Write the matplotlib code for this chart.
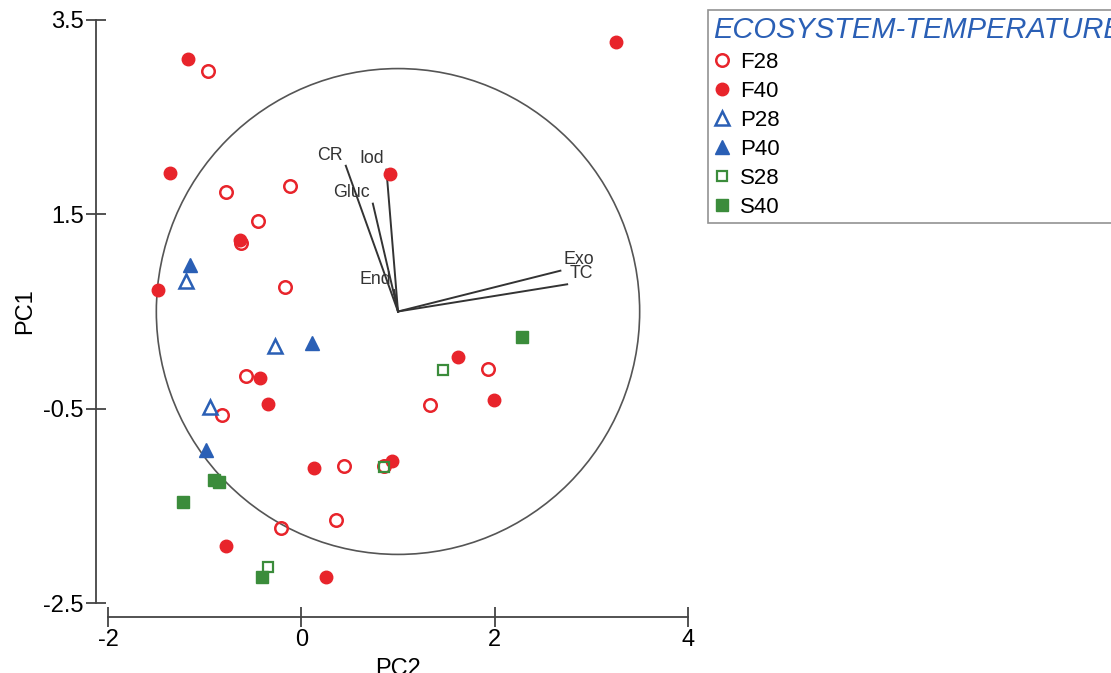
import matplotlib
matplotlib.use('Agg')
import matplotlib.pyplot as plt
from matplotlib.patches import Circle

plt.rcParams['font.family'] = ['Liberation Sans', 'DejaVu Sans']
plt.rcParams['axes.unicode_minus'] = False

# sample scores (PC2 on x, PC1 on y)
f28_x = [-0.97, -0.78, -0.12, -0.45, -0.62, -0.17, -0.57, -0.82, 1.33, 1.93, 0.44, 0.85, 0.36, -0.21]
f28_y = [2.98, 1.73, 1.79, 1.43, 1.21, 0.75, -0.16, -0.57, -0.46, -0.09, -1.09, -1.09, -1.65, -1.73]
f40_x = [-1.17, 3.26, -1.36, 0.92, -0.63, -1.48, -0.43, -0.34, 1.62, 1.99, 0.13, 0.94, -0.78, 0.26]
f40_y = [3.10, 3.27, 1.93, 1.92, 1.24, 0.72, -0.18, -0.45, 0.03, -0.41, -1.11, -1.04, -1.91, -2.23]
p28_x = [-1.19, -0.27, -0.95]
p28_y = [0.81, 0.14, -0.48]
p40_x = [-1.15, 0.11, -0.99]
p40_y = [0.98, 0.18, -0.93]
s28_x = [1.47, 0.85, -0.35]
s28_y = [-0.10, -1.10, -2.13]
s40_x = [2.28, -1.22, -0.90, -0.85, -0.41]
s40_y = [0.24, -1.46, -1.23, -1.25, -2.23]

# loading vectors
var_names = ['CR', 'Iod', 'Gluc', 'End', 'Exo', 'TC']
var_x = [0.46, 0.88, 0.74, 0.96, 2.68, 2.75]
var_y = [2.00, 1.96, 1.61, 0.72, 0.92, 0.78]
origin = (1.0, 0.5)
radius = 2.5

red = '#e8242b'
blue = '#2a5fb5'
green = '#3b8c3b'

fig = plt.figure(figsize=(11.11, 6.73), dpi=100)
ax = fig.add_axes([108/1111, 70/673, 580/1111, 583/673])
ax.set_xlim(-2, 4)
ax.set_ylim(-2.5, 3.5)

ax.add_patch(Circle(origin, radius, fill=False, edgecolor='#555555', lw=1.2))

for name, vx, vy in zip(var_names, var_x, var_y):
    ax.plot([origin[0], vx], [origin[1], vy], color='#333333', lw=1.4)
    if vx < 2:
        ax.annotate(name, (vx, vy), xytext=(-2, 4.5), textcoords='offset points',
                    ha='right', va='baseline', fontsize=12.8, color='#333333')
    else:
        ax.annotate(name, (vx, vy), xytext=(2, 4.5), textcoords='offset points',
                    ha='left', va='baseline', fontsize=12.8, color='#333333')

ax.plot(f28_x, f28_y, 'o', ms=9, mfc='none', mec=red, mew=1.8, ls='none', label='F28', clip_on=False)
ax.plot(f40_x, f40_y, 'o', ms=9, mfc=red, mec=red, ls='none', label='F40', clip_on=False)
ax.plot(p28_x, p28_y, '^', ms=9.5, mfc='none', mec=blue, mew=1.8, ls='none', label='P28', clip_on=False)
ax.plot(p40_x, p40_y, '^', ms=9.5, mfc=blue, mec=blue, ls='none', label='P40', clip_on=False)
ax.plot(s28_x, s28_y, 's', ms=7.5, mfc='none', mec=green, mew=1.6, ls='none', label='S28', clip_on=False)
ax.plot(s40_x, s40_y, 's', ms=8, mfc=green, mec=green, ls='none', label='S40', clip_on=False)

# detached axis lines
for side in ['top', 'right']:
    ax.spines[side].set_visible(False)
ax.spines['left'].set_position(('outward', 8.6))
ax.spines['bottom'].set_position(('outward', 10))
ax.spines['left'].set_bounds(-2.5, 3.5)
ax.spines['bottom'].set_bounds(-2, 4)
for side in ['left', 'bottom']:
    ax.spines[side].set_color('#444444')
    ax.spines[side].set_linewidth(1.3)

ax.set_xticks([-2, 0, 2, 4])
ax.set_yticks([-2.5, -0.5, 1.5, 3.5])
ax.set_yticklabels(['-2.5', '-0.5', '1.5', '3.5'])
ax.tick_params(direction='inout', length=14, width=1.3, color='#444444',
               labelsize=17, pad=2)
ax.set_xlabel('PC2', fontsize=17, labelpad=5)
ax.set_ylabel('PC1', fontsize=17, labelpad=5)

leg = fig.legend(loc='upper left', bbox_to_anchor=(708/1111, 1 - 10/673),
                 bbox_transform=fig.transFigure, borderaxespad=0,
                 title='ECOSYSTEM-TEMPERATURE',
                 title_fontproperties={'size': 21, 'style': 'italic'},
                 fontsize=16, frameon=True, fancybox=False, edgecolor='#777777',
                 handlelength=0.8, handletextpad=0.4, labelspacing=0.36,
                 borderpad=0.25, alignment='left')
leg.get_title().set_color(blue)
leg.get_frame().set_linewidth(1.2)

fig.savefig('out.png', dpi=100)
